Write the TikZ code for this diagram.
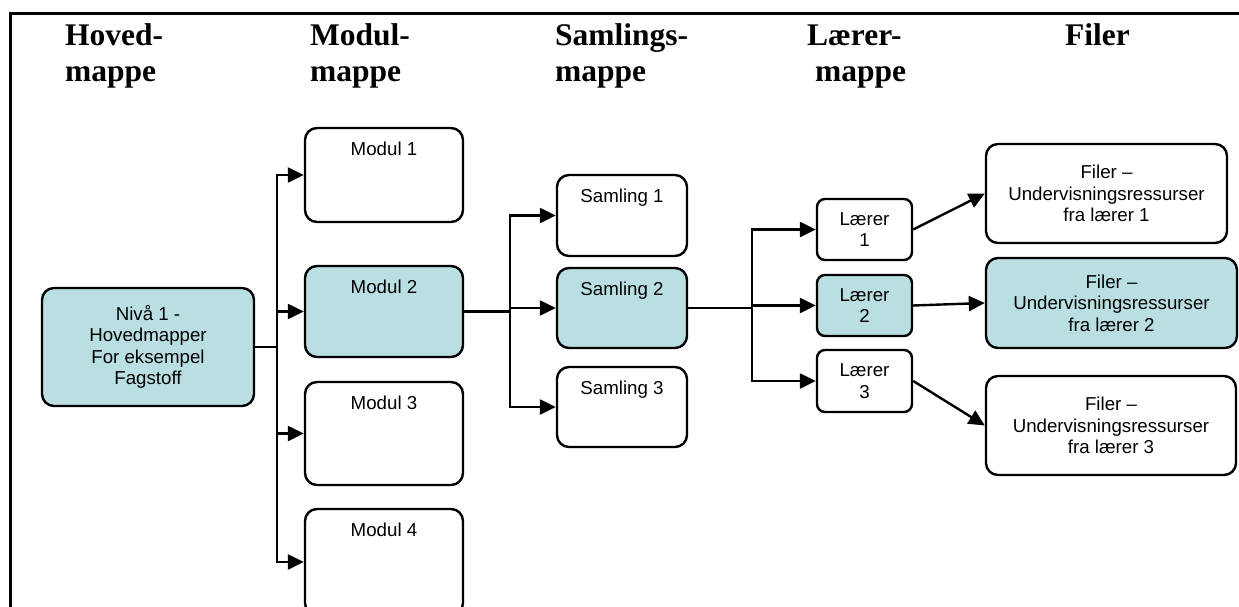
\documentclass[tikz,border=0pt]{standalone}
\usepackage{fontspec}
\setmainfont{Liberation Sans}
\newfontfamily\headfont{Liberation Serif}
\usetikzlibrary{arrows.meta}
\definecolor{folderfill}{RGB}{186,223,227}
\begin{document}
\begin{tikzpicture}[x=1pt,y=-1pt,
  box/.style={draw, line width=2.4pt, rounded corners=12pt, inner sep=0pt,
    align=center, font=\fontsize{18.7}{21.4}\selectfont},
  lbox/.style={box, rounded corners=8pt},
  hl/.style={fill=folderfill},
  toptext/.style={label={[anchor=base, inner sep=0pt, yshift=-29pt,
    font=\fontsize{18.7}{21.4}\selectfont]north:#1}},
  head/.style={anchor=base west, inner sep=0pt,
    font=\headfont\bfseries\fontsize{31.5}{36}\selectfont},
  link/.style={line width=2.4pt},
  arr/.style={link, -{Triangle[length=16pt,width=15pt]}}
]
\useasboundingbox (0,0) rectangle (1239,607);
\clip (0,0) rectangle (1239,607);

% outer frame (runs past the right and bottom edges)
\draw[line width=3pt] (10,14) rectangle (1300,700);

% column headings
\node[head] (hA) at (65,46)  {Hoved-};
\node[head] (hB) at (65,82)  {mappe};
\node[head] (mA) at (310,46) {Modul-};
\node[head] (mB) at (310,82) {mappe};
\node[head] (sA) at (555,46) {Samlings-};
\node[head] (sB) at (555,82) {mappe};
\node[head] (lA) at (807,46) {Lærer-};
\node[head] (lB) at (815,82) {mappe};
\node[head] (fA) at (1065,46) {Filer};

% level 1
\node[box, hl, minimum width=212pt, minimum height=118pt] (niva) at (148,347)
  {Nivå 1 -\\Hovedmapper\\For eksempel\\Fagstoff};

% modules
\node[box, minimum width=158pt, minimum height=94pt, toptext={Modul 1}] (m1) at (384,175) {};
\node[box, hl, minimum width=158pt, minimum height=91pt, toptext={Modul 2}] (m2) at (384,311.5) {};
\node[box, minimum width=158pt, minimum height=103pt, toptext={Modul 3}] (m3) at (384,433.5) {};
\node[box, minimum width=158pt, minimum height=106pt, toptext={Modul 4}] (m4) at (384,562) {};

% sessions
\node[box, minimum width=130pt, minimum height=81pt, toptext={Samling 1}] (s1) at (622,215.5) {};
\node[box, hl, minimum width=130pt, minimum height=80pt, toptext={Samling 2}] (s2) at (622,308) {};
\node[box, minimum width=130pt, minimum height=80pt, toptext={Samling 3}] (s3) at (622,407) {};

% teachers
\node[lbox, minimum width=95pt, minimum height=61pt] (l1) at (864.5,229.5) {Lærer\\1};
\node[lbox, hl, minimum width=95pt, minimum height=61pt] (l2) at (864.5,305.5) {Lærer\\2};
\node[lbox, minimum width=95pt, minimum height=62pt] (l3) at (864.5,381) {Lærer\\3};

% files
\node[box, minimum width=241pt, minimum height=99pt] (f1) at (1106.5,193.5)
  {Filer –\\Undervisningsressurser\\fra lærer 1};
\node[box, hl, minimum width=251pt, minimum height=90pt] (f2) at (1111.5,303)
  {Filer –\\Undervisningsressurser\\fra lærer 2};
\node[box, minimum width=250pt, minimum height=99pt] (f3) at (1111,425.5)
  {Filer –\\Undervisningsressurser\\fra lærer 3};

% branch points
\coordinate (j1) at (277,347);
\coordinate (j2) at (510,311.5);
\coordinate (j3) at (752,308);

% connectors
\draw[link] (niva.east) -- (j1);
\foreach \m in {m1,m2,m3,m4} \draw[arr] (j1) |- (\m.west);

\draw[link] (m2.east) -- (j2);
\foreach \s in {s1,s2,s3} \draw[arr] (j2) |- (\s.west);

\draw[link] (s2.east) -- (j3);
\foreach \l in {l1,l2,l3} \draw[arr] (j3) |- (\l.west);

\draw[arr] (l1.east) -- (f1.west);
\draw[arr] (l2.east) -- (f2.west);
\draw[arr] (l3.east) -- (f3.west);
\end{tikzpicture}
\end{document}
